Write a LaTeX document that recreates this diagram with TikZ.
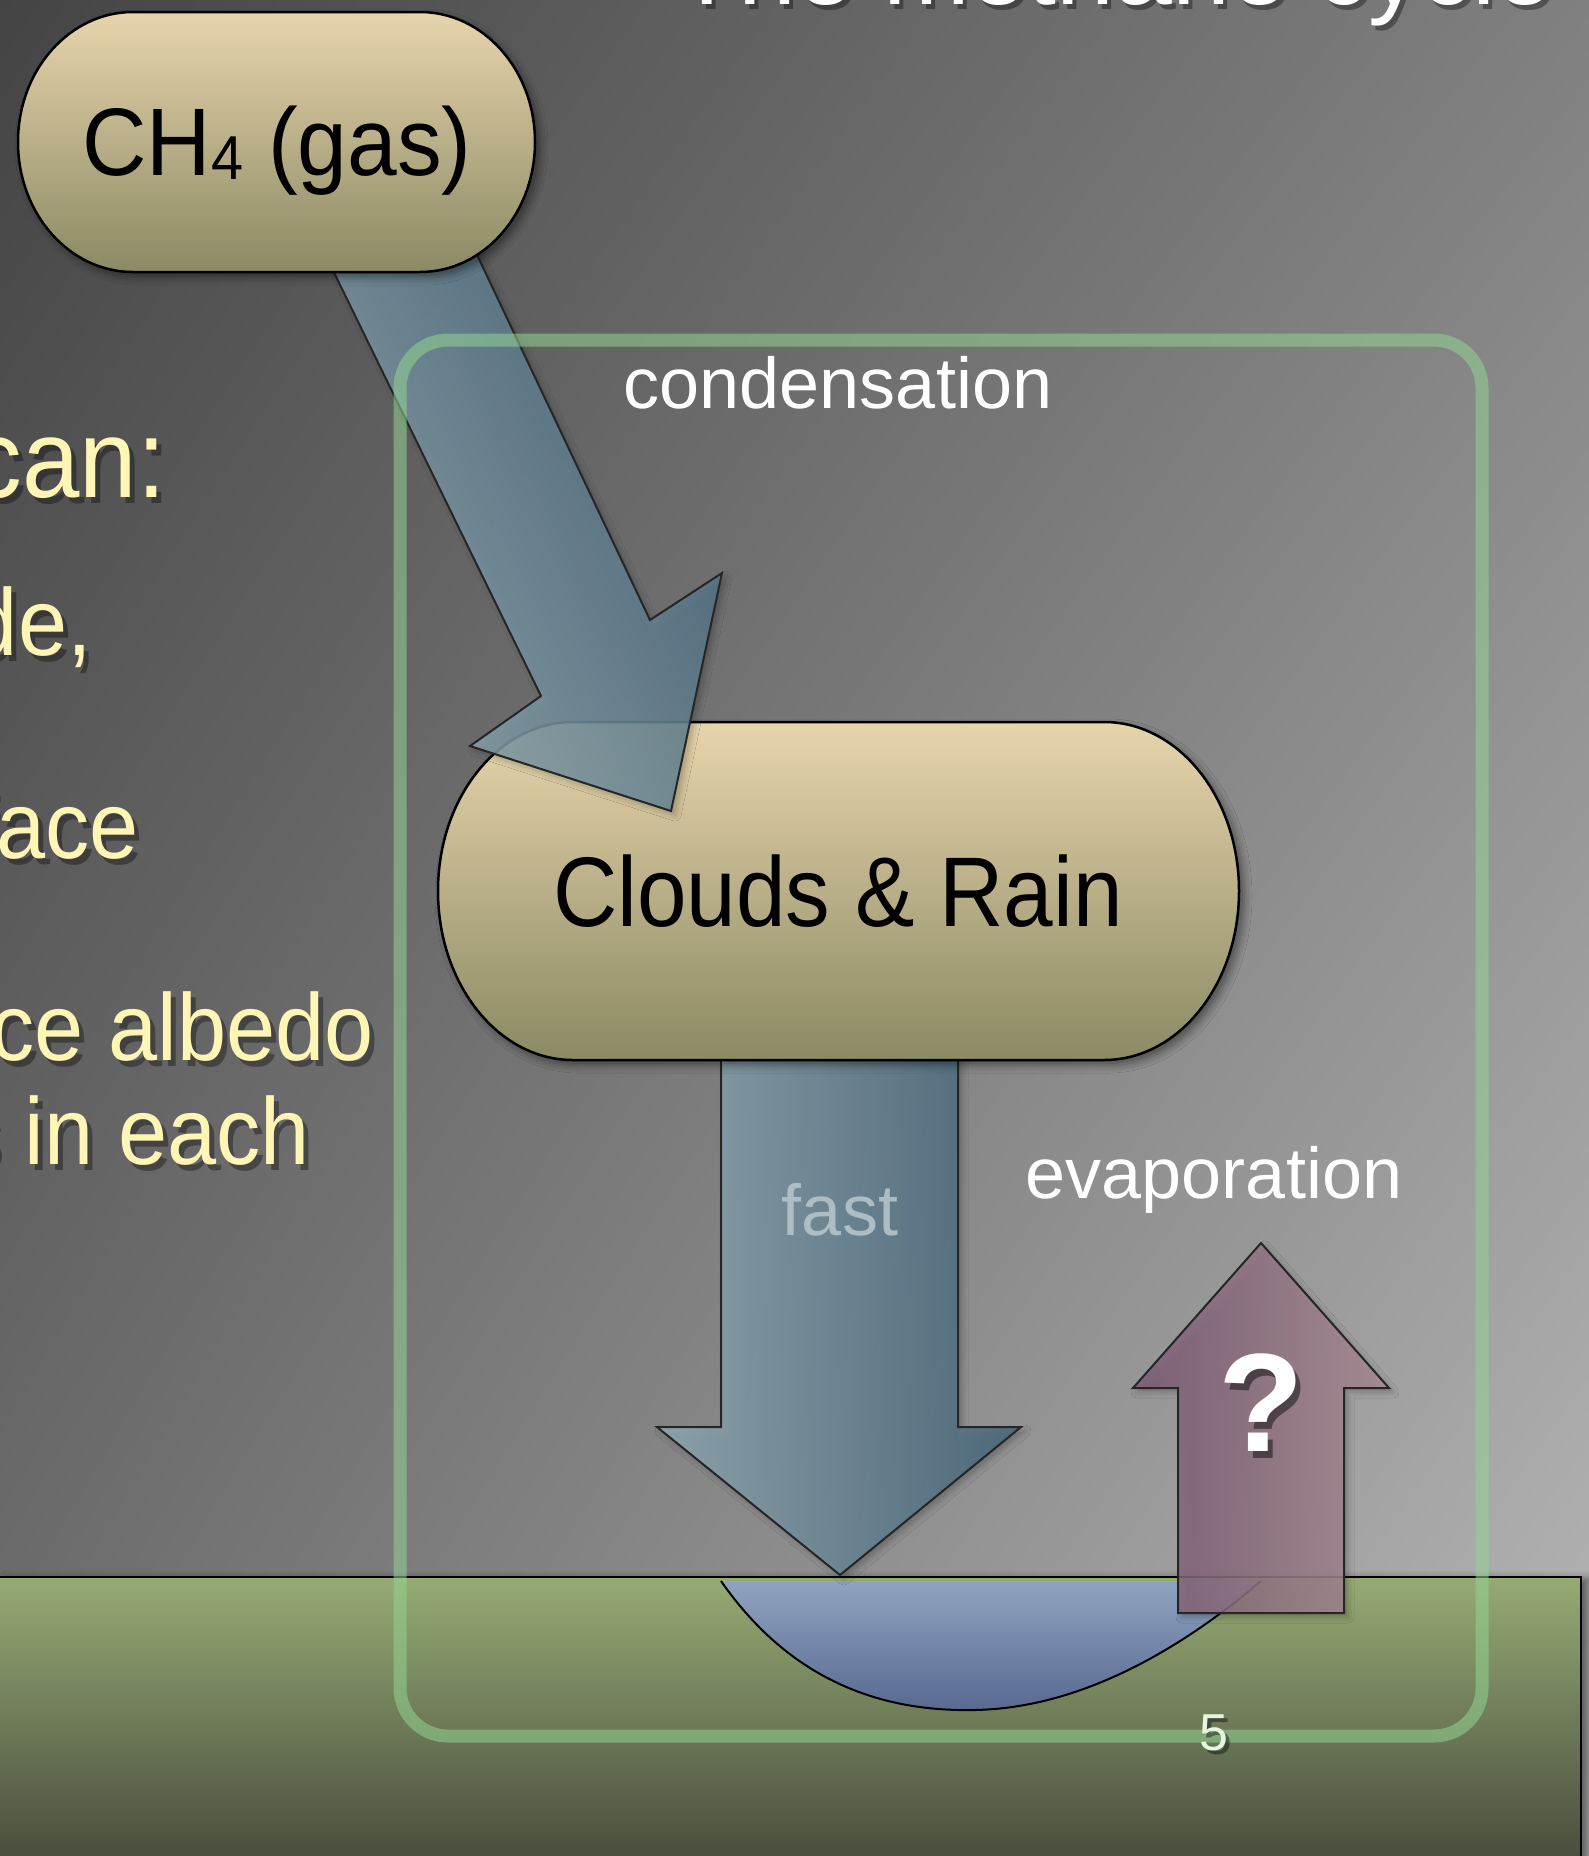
\documentclass[tikz,border=0pt]{standalone}
\usepackage{fontspec}
\setmainfont{Liberation Sans}
\newfontfamily\nfont{Liberation Sans}[FakeStretch=0.93]
\newfontfamily\cfont{Liberation Sans}[FakeStretch=0.9]
\usetikzlibrary{shadows.blur,shadings}
\definecolor{bgUL}{HTML}{444444}
\definecolor{bgUR}{HTML}{808080}
\definecolor{bgLL}{HTML}{727272}
\definecolor{bgLR}{HTML}{B8B8B8}
\definecolor{ndTop}{HTML}{E8D4AC}
\definecolor{ndBot}{HTML}{8A8A64}
\definecolor{abL}{HTML}{92ABB4}
\definecolor{abR}{HTML}{47677C}
\definecolor{mvL}{HTML}{7C5C74}
\definecolor{mvR}{HTML}{AB8E96}
\definecolor{grTop}{HTML}{95AB73}
\definecolor{grBot}{HTML}{44463A}
\definecolor{lkTop}{HTML}{8FA4C0}
\definecolor{lkBot}{HTML}{586890}
\definecolor{gbox}{HTML}{92D492}
\definecolor{ylw}{HTML}{FFF5B5}
\definecolor{fastc}{HTML}{B4C4CA}
\definecolor{fivec}{HTML}{E6F5E0}
\tikzset{
  softshadow/.style={blur shadow={shadow xshift=5pt, shadow yshift=-5pt, shadow blur radius=8pt, shadow opacity=45}},
  lightshadow/.style={blur shadow={shadow xshift=4pt, shadow yshift=-4pt, shadow blur radius=6pt, shadow opacity=25}},
  nodeshape/.style={top color=ndTop, bottom color=ndBot, draw=black, line width=2.5pt, softshadow},
  blockarrow/.style={draw=black!85, line width=2pt, fill opacity=0.85, lightshadow},
  ytxt/.style={font=\nfont\fontsize{95}{114}\selectfont, text=ylw, anchor=base east, inner sep=0pt},
  ytxtbig/.style={font=\nfont\fontsize{111}{130}\selectfont, text=ylw, anchor=base east, inner sep=0pt},
  txtshadow/.style={text=black, text opacity=0.35},
  wtxt/.style={font=\fontsize{72}{86}\selectfont, text=white, anchor=base, inner sep=0pt},
  titletxt/.style={font=\fontsize{104}{120}\selectfont, text=white, anchor=base west, inner sep=0pt},
  gboxline/.style={draw=gbox, draw opacity=0.55, line width=13pt, rounded corners=48pt},
}
\begin{document}
\begin{tikzpicture}[x=1pt,y=-1pt]
\useasboundingbox (0,0) rectangle (1589,1856);
\clip (0,0) rectangle (1589,1856);
% background
\shade[upper left=bgUL, upper right=bgUR, lower left=bgLL, lower right=bgLR] (0,0) rectangle (1589,1856);
% title (cut off at top)
\node[titletxt, txtshadow] (titles) at (679,9) {The methane cycle};
\node[titletxt] (title) at (675,4) {The methane cycle};
% left bullet texts (cut off at left)
\node[ytxtbig, txtshadow] (cans) at (171,503) {can:};
\node[ytxtbig] (can) at (166,497) {can:};
\node[ytxt, txtshadow] (des) at (97,661) {de,};
\node[ytxt] (de) at (92,655) {de,};
\node[ytxt, txtshadow] (faces) at (144,864) {face};
\node[ytxt] (face) at (139,858) {face};
\node[ytxt, txtshadow] (albs) at (379,1066) {ce albedo};
\node[ytxt] (alb) at (374,1060) {ce albedo};
\node[ytxt, txtshadow] (eachs) at (315,1170) {s in each};
\node[ytxt] (each) at (310,1164) {s in each};
% ground
\shade[top color=grTop, bottom color=grBot, blur shadow={shadow xshift=7pt, shadow yshift=-2pt, shadow blur radius=8pt, shadow opacity=50}] (0,1577) rectangle (1581,1880);
\draw[line width=2.5pt] (0,1577) -- (1581,1577) -- (1581,1880);
% lake
\shade[top color=lkTop, bottom color=lkBot] (721,1581) .. controls (790,1680) and (880,1712) .. (975,1710) .. controls (1080,1708) and (1180,1650) .. (1261,1581) -- cycle;
\draw[line width=2pt] (721,1581) .. controls (790,1680) and (880,1712) .. (975,1710) .. controls (1080,1708) and (1180,1650) .. (1261,1581);
% fast arrow (behind clouds node)
\shade[blockarrow, left color=abL, right color=abR] (721,1040) -- (721,1427) -- (657,1427) -- (840,1575) -- (1021,1427) -- (958,1427) -- (958,1040) -- cycle;
\node[wtxt, text=fastc, text opacity=0.9] (fast) at (840,1235) {fast};
% clouds node
\shade[nodeshape] (573,722) -- (1104,722) .. controls (1178.6,722) and (1239,797.7) .. (1239,891) .. controls (1239,984.3) and (1178.6,1060) .. (1104,1060) -- (573,1060) .. controls (498.4,1060) and (438,984.3) .. (438,891) .. controls (438,797.7) and (498.4,722) .. (573,722) -- cycle;
\node[font=\cfont\fontsize{99}{118}\selectfont, anchor=base, inner sep=0pt] (clouds) at (838,926) {Clouds \& Rain};
% condensation arrow
\shade[blockarrow, top color=abL, bottom color=abR, shading angle=116] (323,250) -- (541,696) -- (470,746) -- (671,811) -- (722,573) -- (650,620) -- (451,200) -- cycle;
% CH4 node
\shade[nodeshape] (133,12) -- (420,12) .. controls (483.5,12) and (535,70.2) .. (535,142) .. controls (535,213.8) and (483.5,272) .. (420,272) -- (133,272) .. controls (69.5,272) and (18,213.8) .. (18,142) .. controls (18,70.2) and (69.5,12) .. (133,12) -- cycle;
\node[font=\nfont\fontsize{96}{115}\selectfont, anchor=base, inner sep=0pt] (ch4) at (277,175) {CH\raisebox{-4pt}{\fontsize{62}{70}\selectfont 4} (gas)};
% evaporation arrow
\shade[blockarrow, left color=mvL, right color=mvR] (1178,1613) -- (1178,1388) -- (1133,1388) -- (1261,1243) -- (1389,1388) -- (1344,1388) -- (1344,1613) -- cycle;
\node[font=\bfseries\fontsize{140}{160}\selectfont, text=black, text opacity=0.45] (qs) at (1266,1410) {?};
\node[font=\bfseries\fontsize{140}{160}\selectfont, text=white] (q) at (1261,1403) {?};
% green system box (on top, translucent)
\draw[gboxline] (400,340) rectangle (1482,1736);
% labels
\node[wtxt] (cond) at (838,408) {condensation};
\node[wtxt] (evap) at (1214,1198) {evaporation};
\node[font=\fontsize{52}{62}\selectfont, text=black, text opacity=0.4, anchor=base, inner sep=0pt] (fives) at (1218,1754) {5};
\node[font=\fontsize{52}{62}\selectfont, text=fivec, anchor=base, inner sep=0pt] (five) at (1214,1750) {5};
\end{tikzpicture}
\end{document}
